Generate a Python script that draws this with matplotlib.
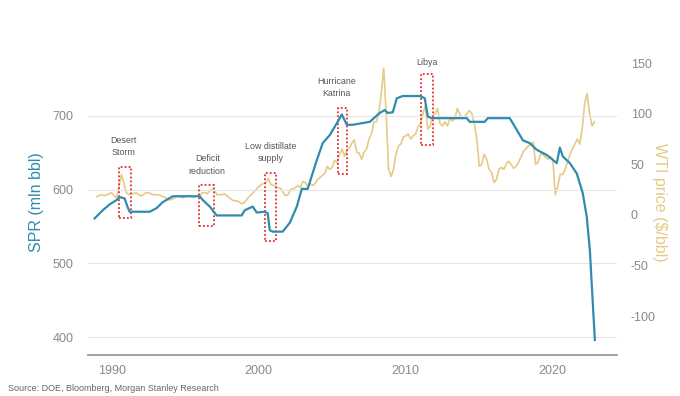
import matplotlib.pyplot as plt
import numpy as np
from matplotlib.patches import Rectangle

plt.rcParams['font.family'] = ['Liberation Sans', 'DejaVu Sans']
plt.rcParams['axes.unicode_minus'] = False

# SPR, mln bbl
spr_year = [1988.84, 1989.39, 1989.86, 1990.34, 1990.54, 1990.88, 1991.09, 1991.22,
            1992.59, 1993.06, 1993.47, 1994.15, 1995.99, 1996.19, 1996.67, 1997.14,
            1998.84, 1999.05, 1999.59, 1999.86, 2000.41, 2000.61, 2000.75, 2000.95,
            2001.63, 2002.11, 2002.59, 2002.93, 2003.33, 2003.95, 2004.35, 2004.83,
            2005.31, 2005.65, 2005.99, 2006.39, 2007.55, 2008.23, 2008.57, 2008.78,
            2009.12, 2009.39, 2009.80, 2010.95, 2011.29, 2011.50, 2011.77, 2014.15,
            2014.35, 2015.37, 2015.58, 2017.07, 2017.55, 2017.96, 2018.44, 2018.91,
            2019.59, 2020.27, 2020.48, 2020.68, 2021.16, 2021.63, 2022.04, 2022.31,
            2022.52, 2022.86]
spr_val = [561, 572, 580, 586, 590, 588, 576, 570,
           570, 575, 583, 591, 591, 586, 577, 565,
           565, 572, 577, 569, 570, 568, 545, 543,
           543, 555, 577, 601, 601, 640, 663, 674,
           690, 702, 688, 688, 692, 704, 708, 704,
           705, 724, 727, 727, 724, 699, 697, 697,
           692, 692, 697, 697, 681, 667, 663, 654,
           647, 636, 657, 645, 636, 622, 595, 563,
           518, 396]

# WTI, $/bbl, six readings per year from 1989
wti_val = [18, 19.5, 20, 19, 20, 21,
           22, 19, 17, 28, 40, 31,
           22, 20, 21, 21, 22, 20,
           19, 20, 22, 22, 21, 20,
           20, 20, 19, 18, 17, 15,
           15, 16, 18, 19, 18, 17,
           18, 19, 19, 18, 18, 19,
           19, 22, 22, 21, 24, 25,
           24, 20, 20, 20, 21, 19,
           17, 15, 14, 14, 13, 11,
           12, 15, 18, 20, 23, 25,
           28, 30, 31, 32, 36, 30,
           29, 28, 27, 26, 22, 19,
           20, 25, 26, 27, 29, 27,
           33, 32, 28, 31, 29, 31,
           35, 37, 39, 41, 48, 45,
           47, 54, 52, 60, 65, 58,
           64, 66, 71, 74, 62, 61,
           55, 62, 65, 75, 80, 92,
           92, 100, 120, 145, 100, 45,
           38, 45, 60, 68, 70, 77,
           78, 80, 75, 78, 80, 87,
           90, 100, 108, 85, 88, 98,
           100, 105, 90, 88, 92, 88,
           95, 93, 95, 105, 100, 95,
           97, 100, 103, 100, 90, 75,
           48, 50, 60, 55, 45, 42,
           32, 35, 45, 47, 45, 50,
           53, 50, 46, 48, 52, 57,
           63, 65, 68, 70, 72, 50,
           52, 60, 60, 57, 55, 58,
           55, 20, 28, 40, 40, 45,
           52, 60, 65, 70, 75, 70,
           85, 110, 120, 100, 88, 92]
wti_year = 1989 + np.arange(len(wti_val)) / 6

# events: label, start year, end year, SPR low, SPR high, label x, label y
events = [
    ("Desert\nStorm", 1990.48, 1991.29, 561, 631, 1990.8, 644),
    ("Deficit\nreduction", 1995.92, 1996.94, 551, 606, 1996.5, 619),
    ("Low distillate\nsupply", 2000.41, 2001.16, 530, 623, 2000.8, 636),
    ("Hurricane\nKatrina", 2005.37, 2005.99, 621, 711, 2005.3, 724),
    ("Libya", 2011.02, 2011.84, 661, 757, 2011.45, 766),
]

blue = '#2F8CAE'
gold = '#E6CA85'
grey = '#8A8A8A'

fig = plt.figure(figsize=(6.8, 3.96), dpi=100)
ax = fig.add_axes([0.129, 0.1035, 0.778, 0.7705])
ax2 = ax.twinx()

ax.set_zorder(ax2.get_zorder() + 1)
ax.patch.set_visible(False)

ax2.plot(wti_year, wti_val, color=gold, linewidth=1.2)
ax.plot(spr_year, spr_val, color=blue, linewidth=1.6)

for label, x0, x1, y0, y1, tx, ty in events:
    ax.add_patch(Rectangle((x0, y0), x1 - x0, y1 - y0, fill=False,
                           edgecolor='#E0302E', linestyle=(0, (1, 1.2)), linewidth=1.3))
    ax.text(tx, ty, label, ha='center', va='bottom', fontsize=6.4,
            color='#555555', linespacing=1.45)

ax.set_xlim(1988.37, 2024.35)
ax.set_ylim(375.6, 789.6)
ax2.set_ylim(-138.3, 163)

ax.set_xticks([1990, 2000, 2010, 2020])
ax.set_yticks([400, 500, 600, 700])
ax2.set_yticks([-100, -50, 0, 50, 100, 150])

ax.grid(axis='y', color='#E6E6E6', linewidth=0.8)
ax.set_axisbelow(True)

for a in (ax, ax2):
    for s in ('top', 'left', 'right', 'bottom'):
        a.spines[s].set_visible(False)
    a.tick_params(length=0, labelsize=9, labelcolor=grey)
ax.spines['bottom'].set_visible(True)
ax.spines['bottom'].set_color('#9A9A9A')
ax.spines['bottom'].set_linewidth(1.3)
ax.tick_params(axis='y', pad=10)
ax.tick_params(axis='x', pad=7)
ax2.tick_params(axis='y', pad=10)

ax.set_ylabel("SPR (mln bbl)", color=blue, fontsize=11.5, labelpad=6)
ax2.set_ylabel("WTI price ($/bbl)", color=gold, fontsize=11.5, rotation=270, labelpad=8)

fig.text(0.012, 0.012, "Source: DOE, Bloomberg, Morgan Stanley Research",
         fontsize=6.5, color='#666666')

fig.savefig("out.png", dpi=100)
